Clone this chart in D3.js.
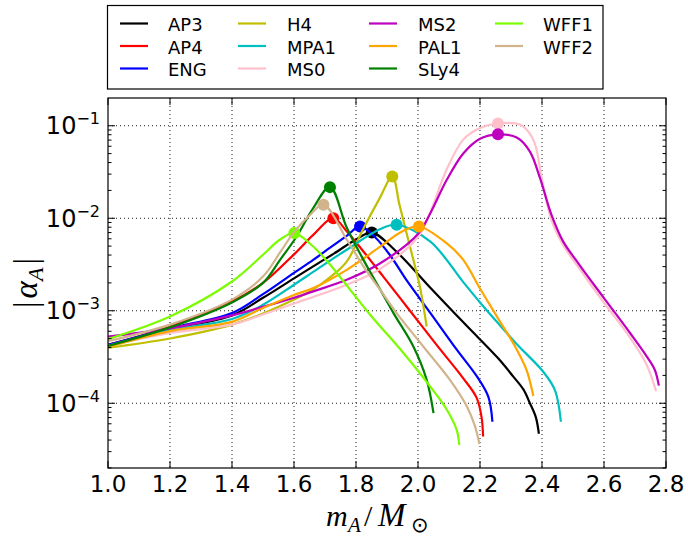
<!DOCTYPE html>
<html><head><meta charset="utf-8">
<script src="https://cdn.jsdelivr.net/npm/d3@7"></script>
<style>body{margin:0;background:#fff}</style>
</head><body>
<svg id="c" width="688" height="537" xmlns="http://www.w3.org/2000/svg"></svg>
<script>
// ---- data ----
const names  = ["AP3","AP4","ENG","H4","MPA1","MS0","MS2","PAL1","SLy4","WFF1","WFF2"];
const colors = ["#000000","#ff0000","#0000ff","#bfbf00","#00bfbf","#ffc0cb","#bf00bf","#ffa500","#008000","#7cfc00","#d2b48c"];

const mAP3 = [1.0,1.2,1.4,1.5,1.6,1.662,1.73,1.8,1.851,1.93,2.039,2.108,2.168,2.2,2.26,2.307,2.34,2.361,2.38,2.39];
const aAP3 = [4.27e-4,6.31e-4,8.91e-4,1.38e-3,2.24e-3,3.02e-3,4.17e-3,5.89e-3,7.0e-3,4.37e-3,1.78e-3,1.02e-3,6.31e-4,4.90e-4,3.02e-4,1.95e-4,1.41e-4,1.0e-4,7.08e-5,4.68e-5];

const mAP4 = [1.0,1.2,1.4,1.5,1.6,1.662,1.727,1.77,1.824,1.888,1.974,2.06,2.146,2.189,2.205,2.21];
const aAP4 = [4.27e-4,6.76e-4,1.26e-3,2.0e-3,4.07e-3,6.61e-3,1.0e-2,7.24e-3,4.37e-3,2.34e-3,1.0e-3,4.27e-4,1.86e-4,1.15e-4,7.08e-5,4.37e-5];

const mENG = [1.0,1.2,1.4,1.5,1.6,1.662,1.72,1.77,1.813,1.86,1.91,1.963,2.039,2.125,2.19,2.227,2.24];
const aENG = [4.27e-4,6.46e-4,9.44e-4,1.51e-3,2.57e-3,3.55e-3,4.90e-3,6.46e-3,8.15e-3,6.31e-3,3.98e-3,2.14e-3,9.55e-4,3.80e-4,1.95e-4,1.17e-4,6.31e-5];

const mH4 = [1.0,1.2,1.4,1.5,1.6,1.662,1.716,1.77,1.824,1.877,1.917,1.94,1.963,1.985,2.006,2.028];
const aH4 = [3.98e-4,5.01e-4,7.08e-4,9.33e-4,1.32e-3,1.70e-3,2.29e-3,3.39e-3,7.76e-3,1.66e-2,2.83e-2,1.41e-2,6.92e-3,3.55e-3,1.83e-3,6.76e-4];

const mMPA1 = [1.0,1.2,1.4,1.5,1.6,1.662,1.77,1.877,1.931,2.039,2.146,2.2,2.265,2.318,2.404,2.442,2.461];
const aMPA1 = [4.17e-4,6.17e-4,8.13e-4,1.16e-3,1.91e-3,2.63e-3,4.57e-3,7.59e-3,8.51e-3,5.62e-3,2.04e-3,1.23e-3,6.92e-4,4.37e-4,2.19e-4,1.38e-4,6.31e-5];

const mMS0 = [1.0,1.2,1.4,1.5,1.6,1.662,1.77,1.877,2.0,2.039,2.092,2.146,2.2,2.258,2.33,2.372,2.4,2.43,2.468,2.52,2.6,2.684,2.737,2.768];
const aMS0 = [4.17e-4,5.75e-4,7.08e-4,9.12e-4,1.20e-3,1.41e-3,1.91e-3,2.82e-3,6.31e-3,1.15e-2,3.34e-2,7.08e-2,9.44e-2,1.059e-1,1.023e-1,7.08e-2,2.61e-2,9.64e-3,5.13e-3,2.88e-3,1.22e-3,5.13e-4,2.63e-4,1.35e-4];

const mMS2 = [1.0,1.2,1.4,1.5,1.6,1.662,1.77,1.877,2.0,2.039,2.092,2.146,2.2,2.258,2.32,2.361,2.394,2.43,2.468,2.52,2.6,2.684,2.737,2.764,2.777];
const aMS2 = [5.27e-4,6.46e-4,8.91e-4,1.10e-3,1.38e-3,1.62e-3,2.16e-3,3.24e-3,6.76e-3,1.12e-2,2.57e-2,5.01e-2,7.24e-2,8.07e-2,7.41e-2,5.25e-2,2.69e-2,1.10e-2,5.62e-3,3.16e-3,1.37e-3,5.75e-4,3.24e-4,2.29e-4,1.55e-4];

const mPAL1 = [1.0,1.2,1.4,1.5,1.6,1.662,1.77,1.877,1.95,2.003,2.092,2.146,2.2,2.265,2.307,2.35,2.372];
const aPAL1 = [4.07e-4,6.03e-4,7.59e-4,1.07e-3,1.48e-3,1.76e-3,2.77e-3,4.90e-3,7.24e-3,8.15e-3,5.37e-3,3.55e-3,1.74e-3,7.59e-4,4.47e-4,2.29e-4,1.20e-4];

const mSLy4 = [1.0,1.2,1.4,1.5,1.555,1.608,1.662,1.716,1.77,1.824,1.856,1.92,1.985,2.028,2.05];
const aSLy4 = [4.17e-4,6.61e-4,1.23e-3,2.0e-3,3.55e-3,6.31e-3,1.29e-2,2.17e-2,7.94e-3,3.55e-3,2.29e-3,9.55e-4,4.11e-4,1.79e-4,7.83e-5];

const mWFF1 = [1.0,1.2,1.4,1.5,1.555,1.601,1.662,1.716,1.75,1.845,1.953,2.039,2.093,2.125,2.133];
const aWFF1 = [4.94e-4,8.67e-4,2.07e-3,4.03e-3,5.89e-3,6.92e-3,4.95e-3,3.16e-3,2.29e-3,9.12e-4,3.49e-4,1.52e-4,8.51e-5,5.13e-5,3.55e-5];

const mWFF2 = [1.0,1.2,1.4,1.5,1.555,1.6,1.65,1.695,1.77,1.824,1.877,1.931,2.017,2.103,2.157,2.184,2.198];
const aWFF2 = [4.68e-4,7.08e-4,1.32e-3,2.34e-3,4.27e-3,7.08e-3,1.07e-2,1.40e-2,5.89e-3,3.02e-3,1.70e-3,9.44e-4,4.11e-4,1.79e-4,9.33e-5,5.62e-5,3.63e-5];

const massArrays  = [mAP3,mAP4,mENG,mH4,mMPA1,mMS0,mMS2,mPAL1,mSLy4,mWFF1,mWFF2];
const alphaArrays = [aAP3,aAP4,aENG,aH4,aMPA1,aMS0,aMS2,aPAL1,aSLy4,aWFF1,aWFF2];

const xTicks = [1.0,1.2,1.4,1.6,1.8,2.0,2.2,2.4,2.6,2.8];
const xTickLabels = ["1.0","1.2","1.4","1.6","1.8","2.0","2.2","2.4","2.6","2.8"];
const yTicks = [1e-4,1e-3,1e-2,1e-1];
const yTickExps = ["\u22124","\u22123","\u22122","\u22121"];

// ---- layout ----
const L = 108, R = 666, T = 98, B = 468;
const svg = d3.select("#c");
const x = d3.scaleLinear().domain([1.0, 2.8]).range([L, R]);
const y = d3.scaleLog().domain([Math.pow(10,-4.7), Math.pow(10,-0.7)]).range([B, T]);

svg.append("rect").attr("width",688).attr("height",537).attr("fill","#fff");

// grid
const grid = svg.append("g").attr("stroke","#000").attr("stroke-width",0.9).attr("stroke-dasharray","1,3");
xTicks.slice(1,-1).forEach(v => grid.append("line").attr("x1",x(v)).attr("x2",x(v)).attr("y1",T).attr("y2",B));
yTicks.forEach(v => grid.append("line").attr("x1",L).attr("x2",R).attr("y1",y(v)).attr("y2",y(v)));

// clip
svg.append("defs").append("clipPath").attr("id","clip")
  .append("rect").attr("x",L).attr("y",T).attr("width",R-L).attr("height",B-T);

const line = d3.line().x(d => x(d[0])).y(d => y(d[1])).curve(d3.curveCatmullRom.alpha(0.5));
const plot = svg.append("g").attr("clip-path","url(#clip)");
names.forEach((n,i) => {
  const pts = massArrays[i].map((m,j) => [m, alphaArrays[i][j]]);
  plot.append("path").datum(pts).attr("d", line)
    .attr("fill","none").attr("stroke", colors[i]).attr("stroke-width", 2.2)
    .attr("stroke-linejoin","round");
  const pk = pts.reduce((a,b) => b[1] > a[1] ? b : a);
  plot.append("circle").attr("cx", x(pk[0])).attr("cy", y(pk[1])).attr("r", 6).attr("fill", colors[i]);
});

// frame
svg.append("rect").attr("x",L).attr("y",T).attr("width",R-L).attr("height",B-T)
  .attr("fill","none").attr("stroke","#000").attr("stroke-width",1.2);

// ticks
const tk = svg.append("g").attr("stroke","#000").attr("stroke-width",1);
xTicks.forEach(v => {
  tk.append("line").attr("x1",x(v)).attr("x2",x(v)).attr("y1",B).attr("y2",B-7);
  tk.append("line").attr("x1",x(v)).attr("x2",x(v)).attr("y1",T).attr("y2",T+7);
});
yTicks.forEach(v => {
  tk.append("line").attr("x1",L).attr("x2",L+7).attr("y1",y(v)).attr("y2",y(v));
  tk.append("line").attr("x1",R).attr("x2",R-7).attr("y1",y(v)).attr("y2",y(v));
});
for (let k = -5; k <= -1; k++) for (let j = 2; j <= 9; j++) {
  const v = j * Math.pow(10,k);
  if (y(v) < T || y(v) > B) continue;
  tk.append("line").attr("x1",L).attr("x2",L+3.5).attr("y1",y(v)).attr("y2",y(v));
  tk.append("line").attr("x1",R).attr("x2",R-3.5).attr("y1",y(v)).attr("y2",y(v));
}

// tick labels
const font = "DejaVu Sans, sans-serif";
xTicks.forEach((v,i) => {
  svg.append("text").attr("x",x(v)).attr("y",492).attr("text-anchor","middle")
    .attr("font-family",font).attr("font-size",23).attr("fill","#000").text(xTickLabels[i]);
});
yTicks.forEach((v,i) => {
  const t = svg.append("text").attr("x",100).attr("y",y(v)+8.5).attr("text-anchor","end")
    .attr("font-family",font).attr("font-size",24).attr("fill","#000");
  t.append("tspan").text("10");
  t.append("tspan").attr("font-size",16).attr("dy",-10).text(yTickExps[i]);
});

// axis labels
const serif = "Liberation Serif, DejaVu Serif, serif";
const xl = svg.append("text").attr("y",526)
  .attr("font-family",serif).attr("font-size",30).attr("fill","#000");
xl.append("tspan").attr("x",326).attr("font-style","italic").text("m");
xl.append("tspan").attr("x",348).attr("font-style","italic").attr("font-size",21).attr("dy",6).text("A");
xl.append("tspan").attr("x",364).attr("dy",-6).text("/");
xl.append("tspan").attr("x",378).attr("font-style","italic").attr("font-size",33).text("M");
xl.append("tspan").attr("x",411).attr("font-family",font).attr("font-size",21).attr("dy",6).text("\u2299");

const yl = svg.append("text").attr("transform","translate(37,283) rotate(-90)").attr("text-anchor","middle")
  .attr("font-family",serif).attr("font-size",33).attr("fill","#000");
yl.append("tspan").text("|");
yl.append("tspan").attr("font-style","italic").attr("dx",3).text("\u03b1");
yl.append("tspan").attr("font-style","italic").attr("font-size",22).attr("dy",6).text("A");
yl.append("tspan").attr("dy",-6).attr("dx",3).text("|");

// legend
const lg = svg.append("g");
lg.append("rect").attr("x",107.5).attr("y",5.5).attr("width",495.5).attr("height",83.5)
  .attr("fill","#fff").attr("stroke","#000").attr("stroke-width",1.2);
const colLineX = [120, 238, 369, 495];
const colTextX = [168, 287, 418, 543];
const rowBase = [31, 53.5, 76];
names.forEach((n,i) => {
  const c = Math.floor(i/3), r = i % 3;
  lg.append("line").attr("x1",colLineX[c]).attr("x2",colLineX[c]+28)
    .attr("y1",rowBase[r]-7.5).attr("y2",rowBase[r]-7.5)
    .attr("stroke",colors[i]).attr("stroke-width",2.2);
  lg.append("text").attr("x",colTextX[c]).attr("y",rowBase[r])
    .attr("font-family",font).attr("font-size",18).attr("fill","#000").text(n);
});
</script>
</body></html>
